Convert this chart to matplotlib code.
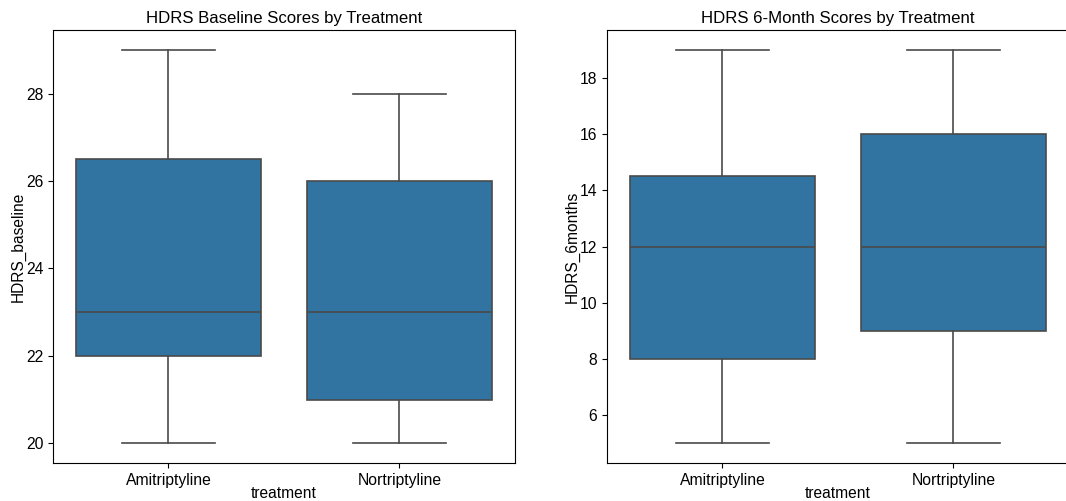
import matplotlib
matplotlib.use("Agg")
import matplotlib.pyplot as plt

plt.rcParams['font.family'] = ['Liberation Sans', 'DejaVu Sans']

treatments = ["Amitriptyline", "Nortriptyline"]

# five-number summaries: low whisker, q1, median, q3, high whisker
baseline_low = [20, 20]
baseline_q1 = [22, 21]
baseline_med = [23, 23]
baseline_q3 = [26.5, 26]
baseline_high = [29, 28]

month6_low = [5, 5]
month6_q1 = [8, 9]
month6_med = [12, 12]
month6_q3 = [14.5, 16]
month6_high = [19, 19]

BOX_COLOR = "#3274a1"
LINE_COLOR = "#4a4a4a"


def make_stats(low, q1, med, q3, high):
    stats = []
    for i in range(len(treatments)):
        stats.append({
            "label": treatments[i],
            "whislo": low[i], "q1": q1[i], "med": med[i],
            "q3": q3[i], "whishi": high[i], "fliers": [],
        })
    return stats


def draw_box(ax, stats, title, ylabel):
    line = dict(color=LINE_COLOR, linewidth=1.2)
    ax.bxp(stats, positions=range(len(stats)), widths=0.8, patch_artist=True,
           showfliers=False,
           boxprops=dict(facecolor=BOX_COLOR, edgecolor=LINE_COLOR, linewidth=1.2),
           medianprops=line, whiskerprops=line,
           capprops=line, capwidths=0.4)
    ax.set_xlim(-0.5, len(stats) - 0.5)
    lo = min(s["whislo"] for s in stats)
    hi = max(s["whishi"] for s in stats)
    pad = (hi - lo) * 0.05
    ax.set_ylim(lo - pad, hi + pad)
    ax.set_title(title, fontsize=12.1, pad=5)
    ax.set_xlabel("treatment", fontsize=11.2, labelpad=-1.5)
    ax.set_ylabel(ylabel, fontsize=11.2, labelpad=0)
    ax.tick_params(labelsize=11.3)


fig = plt.figure(figsize=(10.66, 5.01), dpi=100)
ax1 = fig.add_axes([0.0497, 0.0758, 0.4334, 0.864])
ax2 = fig.add_axes([0.5694, 0.0758, 0.4334, 0.864])

draw_box(ax1, make_stats(baseline_low, baseline_q1, baseline_med, baseline_q3, baseline_high),
         "HDRS Baseline Scores by Treatment", "HDRS_baseline")
draw_box(ax2, make_stats(month6_low, month6_q1, month6_med, month6_q3, month6_high),
         "HDRS 6-Month Scores by Treatment", "HDRS_6months")

fig.savefig("out.png", dpi=100)
